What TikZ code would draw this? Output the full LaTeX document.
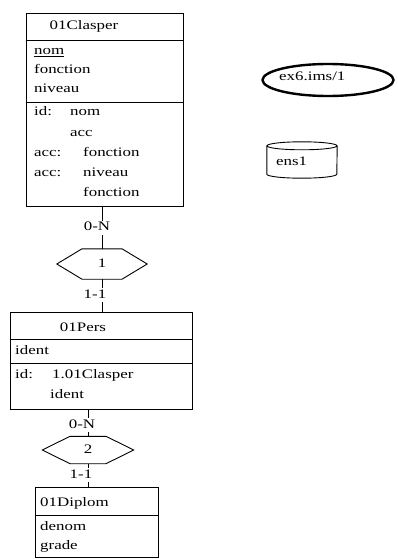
\documentclass[tikz,border=0pt]{standalone}
\usepackage{fontspec}
\setmainfont{Liberation Serif}[FakeStretch=1.3]
\usetikzlibrary{shapes.geometric}
\tikzset{
  entity/.style={draw,line width=0.9pt,inner sep=0pt},
  sep/.style={line width=0.9pt},
  attr/.style={anchor=west,inner sep=0pt,text height=9pt,text depth=3pt},
  card/.style={fill=white,inner sep=1pt,text height=9pt,text depth=3pt},
  rel/.style={inner sep=0pt,text height=9pt,text depth=3pt},
  link/.style={line width=0.8pt},
}

\begin{document}
\begin{tikzpicture}[x=1pt,y=1pt,font=\fontsize{13}{15}\selectfont]
  \useasboundingbox (0,0) rectangle (397,-559);
  % entity 01Clasper
  \node[entity,minimum width=157pt,minimum height=193pt] (clasper) at (104.5,-109.5) {};
  \draw[sep] (clasper.west |- 0,-40) -- (clasper.east |- 0,-40);
  \draw[sep] (clasper.west |- 0,-102) -- (clasper.east |- 0,-102);
  \node[rel] (claspertitle) at (84,-27) {01Clasper};
  \node[attr] (c1) at (34,-52) {\underline{nom}};
  \node[attr] (c2) at (34,-71) {fonction};
  \node[attr] (c3) at (34,-90) {niveau};
  \node[attr] (c4) at (34,-113) {id:};
  \node[attr] (c5) at (70,-113) {nom};
  \node[attr] (c6) at (70,-133) {acc};
  \node[attr] (c7) at (34,-153) {acc:};
  \node[attr] (c8) at (83,-153) {fonction};
  \node[attr] (c9) at (34,-173) {acc:};
  \node[attr] (c10) at (83,-173) {niveau};
  \node[attr] (c11) at (83,-193) {fonction};
  % relation 1
  \node[rel,minimum width=90pt,minimum height=30pt] (hexA) at (102,-264) {1};
  \draw[sep] (hexA.west) -- ([xshift=-20pt]hexA.north) -- ([xshift=20pt]hexA.north)
    -- (hexA.east) -- ([xshift=20pt]hexA.south) -- ([xshift=-20pt]hexA.south) -- cycle;
  % entity 01Pers
  \node[entity,minimum width=182pt,minimum height=97pt] (pers) at (101,-360.5) {};
  \draw[sep] (pers.west |- 0,-339) -- (pers.east |- 0,-339);
  \draw[sep] (pers.west |- 0,-363) -- (pers.east |- 0,-363);
  \node[rel] (perstitle) at (83,-328) {01Pers};
  \node[attr] (p1) at (15,-351) {ident};
  \node[attr] (p2) at (15,-375) {id:};
  \node[attr] (p3) at (52,-375) {1.01Clasper};
  \node[attr] (p4) at (50,-395) {ident};
  % relation 2
  \node[rel,minimum width=91pt,minimum height=27pt] (hexB) at (88,-450) {2};
  \draw[sep] (hexB.west) -- ([xshift=-18pt]hexB.north) -- ([xshift=18pt]hexB.north)
    -- (hexB.east) -- ([xshift=18pt]hexB.south) -- ([xshift=-18pt]hexB.south) -- cycle;
  % entity 01Diplom
  \node[entity,minimum width=123pt,minimum height=70pt] (diplom) at (96.5,-522) {};
  \draw[sep] (diplom.west |- 0,-515) -- (diplom.east |- 0,-515);
  \node[attr] (d1) at (40,-503) {01Diplom};
  \node[attr] (d2) at (40,-527) {denom};
  \node[attr] (d3) at (40,-546) {grade};
  % roles
  \draw[link] (hexA.north) -- (hexA.north |- clasper.south) node[card,midway,xshift=-5pt] (r1) {0-N};
  \draw[link] (hexA.south) -- (hexA.south |- pers.north) node[card,midway,xshift=-7pt] (r2) {1-1};
  \draw[link] (hexB.north) -- (hexB.north |- pers.south) node[card,pos=0.42,xshift=-6pt] (r3) {0-N};
  \draw[link] (hexB.south) -- (hexB.south |- diplom.north) node[card,midway,xshift=-7pt] (r4) {1-1};
  % schema and collection
  \node[ellipse,draw,line width=2.4pt,minimum width=131pt,minimum height=32pt] (ims) at (328,-80) {};
  \node[attr] (imstext) at (279,-78) {ex6.ims/1};
  \node[minimum width=70pt,minimum height=36pt,inner sep=0pt] (ens) at (302,-160) {};
  \draw[sep] ([yshift=-4pt]ens.north west) -- ([yshift=4pt]ens.south west)
    arc[start angle=180,end angle=360,x radius=35pt,y radius=4pt] -- ([yshift=-4pt]ens.north east);
  \draw[sep] ([yshift=-4pt]ens.north) ellipse[x radius=35pt,y radius=4pt];
  \node[attr] (enstext) at (276,-162) {ens1};
\end{tikzpicture}
\end{document}
